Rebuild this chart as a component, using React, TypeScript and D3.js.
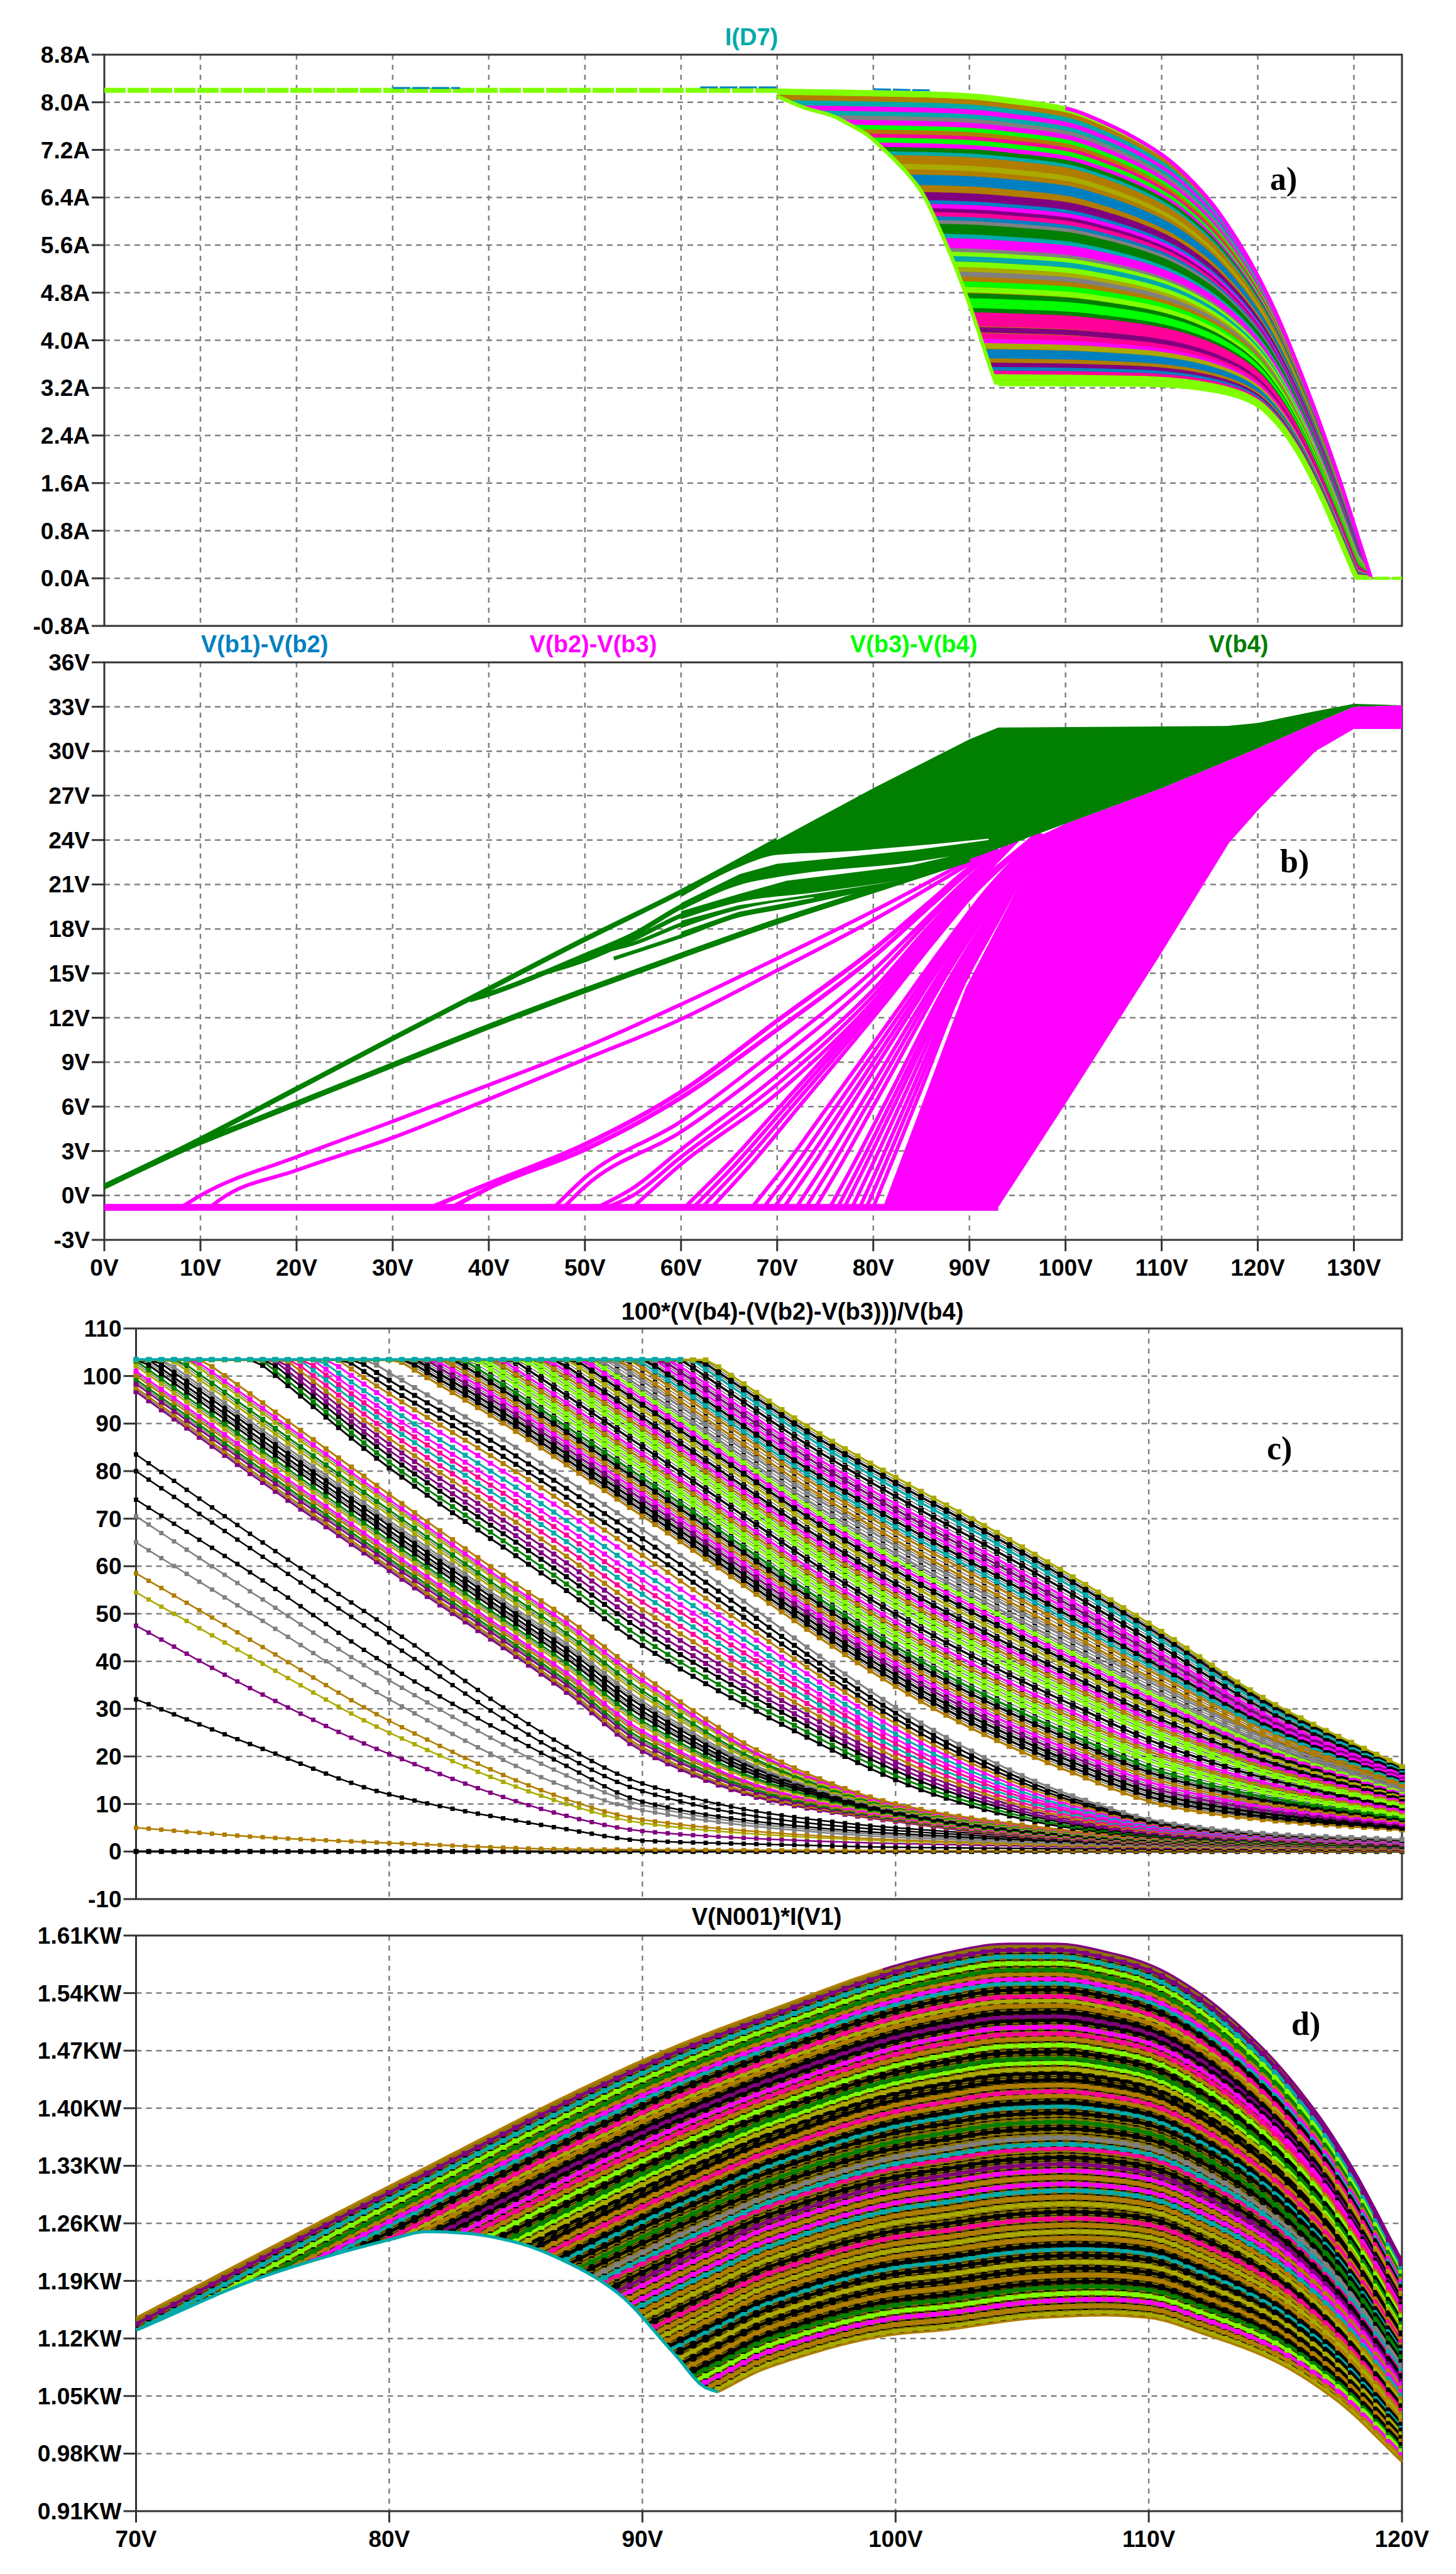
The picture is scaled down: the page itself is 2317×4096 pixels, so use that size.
import React from 'react';
import * as d3 from 'd3';

type Pt = [number, number];
type Stripe = [number, string];

const PALETTE: Record<string, string> = {
  M: '#ff00ff', L: '#80ff00', G: '#00ff00', D: '#007f00', T: '#00aaaa', B: '#0080c0',
  P: '#800080', K: '#ff0099', O: '#b07d00', Y: '#aaaa00', A: '#808080', N: '#000000',
};

// ---------- panel a: I(D7) ----------
const aYTicks = [8.8, 8.0, 7.2, 6.4, 5.6, 4.8, 4.0, 3.2, 2.4, 1.6, 0.8, 0.0, -0.8];
const aYLabels = ['8.8A', '8.0A', '7.2A', '6.4A', '5.6A', '4.8A', '4.0A', '3.2A', '2.4A', '1.6A', '0.8A', '0.0A', '-0.8A'];
const aFlat: Pt[] = [[0, 8.2], [70, 8.2]];
const aBlueBits: Pt[][] = [[[30, 8.24], [37, 8.24]], [[62, 8.25], [70, 8.25]], [[80, 8.22], [86, 8.2]]];
const aZero: Pt[] = [[130.2, 0], [135, 0]];
const aUpper: Pt[] = [[70, 8.2], [86, 8.15], [90, 8.12], [95, 8.03], [100, 7.9], [104, 7.66], [110, 7.12], [114.4, 6.46], [117.8, 5.7], [121.2, 4.7], [124.6, 3.4], [128, 1.9], [131.8, 0]];
const aLowerRight: Pt[] = [[93, 3.26], [108, 3.25], [112, 3.22], [115.4, 3.15], [118, 3.05], [120, 2.9], [122, 2.6], [124, 2.15], [126.3, 1.45], [130.2, 0]];
const aLeftEdge: Pt[] = [[70, 8.1], [73, 7.9], [75.6, 7.78], [77.6, 7.62], [79.4, 7.45], [80.8, 7.25], [83, 6.9], [85, 6.5], [87.2, 5.76], [89.2, 4.96], [90.6, 4.32], [92.3, 3.48], [92.8, 3.26]];
const aStripes: Stripe[] = [
  [7.95, 'L'], [7.86, 'O'], [7.78, 'T'], [7.7, 'M'], [7.62, 'T'], [7.55, 'A'], [7.48, 'M'], [7.4, 'G'], [7.33, 'O'], [7.26, 'K'], [7.2, 'G'], [7.12, 'M'], [7.05, 'D'], [6.98, 'T'], [6.92, 'O'], [6.85, 'O'], [6.78, 'Y'], [6.69, 'O'], [6.61, 'B'], [6.53, 'B'], [6.42, 'O'], [6.33, 'P'], [6.26, 'P'], [6.2, 'B'], [6.14, 'M'], [6.07, 'P'], [6.01, 'K'], [5.94, 'B'], [5.88, 'A'], [5.82, 'D'], [5.74, 'D'], [5.66, 'T'], [5.59, 'M'], [5.51, 'M'], [5.43, 'A'], [5.37, 'L'], [5.3, 'T'], [5.21, 'L'], [5.12, 'Y'], [5.05, 'A'], [4.97, 'O'], [4.89, 'G'], [4.8, 'L'], [4.7, 'D'], [4.62, 'G'], [4.53, 'G'], [4.46, 'D'], [4.39, 'K'], [4.32, 'K'], [4.25, 'K'], [4.15, 'P'], [4.05, 'K'], [3.96, 'M'], [3.89, 'Y'], [3.79, 'B'], [3.71, 'B'], [3.64, 'O'], [3.57, 'P'], [3.5, 'B'], [3.44, 'K'], [3.38, 'L'], [3.29, 'L'],
];

// ---------- panel b: V(b1)-V(b2) ... V(b4) ----------
const bXTicks = [0, 10, 20, 30, 40, 50, 60, 70, 80, 90, 100, 110, 120, 130];
const bXLabels = bXTicks.map(v => `${v}V`);
const bYTicks = [36, 33, 30, 27, 24, 21, 18, 15, 12, 9, 6, 3, 0, -3];
const bYLabels = bYTicks.map(v => `${v}V`);
const bFloor: Pt[] = [[0, -0.8], [93, -0.8]];
const bGreenUpper: Pt[] = [[0, 0.6], [10, 3.8], [20, 7.2], [30, 10.6], [40, 13.95], [50, 17.3], [60, 20.5], [70, 24], [80, 27.5], [90, 30.8], [93, 31.6], [116.8, 31.7], [120, 31.9], [126, 32.7], [130, 33.2], [135, 33.1]];
const bGreenLower: Pt[] = [[0, 0.6], [10, 3.6], [15, 4.9], [20, 6.2], [30, 8.8], [40, 11.4], [50, 13.85], [60, 16.2], [70, 18.5], [80, 20.6], [90, 22.7], [100, 25.1], [110, 27.5], [120, 30.2], [126, 31.9], [130, 33], [135, 33.1]];
const bGreen2: Pt[] = [[38, 13.2], [40, 13.6], [50, 16.2], [55, 17.6], [60, 19.5], [70, 22]];
const bGreen3: Pt[] = [[45, 14.9], [50, 15.9], [55, 17.3], [60, 18.9], [70, 20.7]];
const bGreen4: Pt[] = [[52, 16.5], [55, 17], [60, 18.3], [70, 20.2]];
const bGreen5: Pt[] = [[53, 16], [60, 17.5], [66, 18.9], [70, 19.4], [83.4, 21.3]];
const bSlitUpper: Pt[] = [[60, 20.15], [66.1, 22.2], [70, 23], [76.3, 23.2], [84, 23.6], [92, 24.1]];
const bSlitLower: Pt[] = [[60, 19.75], [66.1, 21.7], [70, 22.4], [76.3, 22.8], [84, 23.3], [92, 24]];
const bSlit2Upper: Pt[] = [[60, 19.25], [66, 20.95], [71, 21.6], [84, 22.5], [88, 22.9]];
const bSlit2Lower: Pt[] = [[60, 19.2], [66, 20.35], [71, 21.25], [84, 22.3], [88, 22.9]];
const bSlit3Upper: Pt[] = [[60, 18.65], [66, 19.8], [73.8, 20.45], [83, 21.3]];
const bSlit3Lower: Pt[] = [[60, 18.55], [66, 19.6], [73.8, 20.35], [83, 21.3]];
const bSlit4Upper: Pt[] = [[60, 18.05], [66, 19.3], [73.8, 20.15]];
const bSlit4Lower: Pt[] = [[60, 17.8], [66, 19.15], [73.8, 20.1]];
const bStrands: Pt[][] = [
  [[8, -0.8], [10, 0], [20, 2.6], [30, 5], [40, 7.46], [50, 10], [60, 12.9], [70, 16], [80, 19.2], [91, 23]],
  [[11, -0.8], [12, -0.3], [20, 1.7], [30, 3.9], [40, 6.5], [50, 9.2], [60, 11.9], [70, 15.2], [80, 18.6], [92, 23.2]],
  [[34, -0.8], [40, 0.8], [50, 3.45], [60, 7], [70, 11.8], [80, 16.6], [86, 19.9], [90, 22.1], [93, 23.4]],
  [[36.2, -0.8], [40, 0.5], [50, 3.1], [60, 6.6], [70, 11.2], [80, 16.1], [86, 19.6], [90, 21.9], [93, 23.4]],
  [[46.8, -0.8], [50, 1.2], [60, 5], [70, 9.9], [80, 15.2], [86, 19], [90, 21.5], [94, 23.7]],
  [[47.8, -0.8], [50, 0.6], [60, 4.3], [70, 9.1], [80, 14.6], [86, 18.7], [90, 21.3], [94, 23.7]],
  [[51.3, -0.8], [55, 0.5], [60, 3.1], [70, 8.1], [80, 13.9], [86, 18.3], [90, 21], [95, 24]],
  [[52.3, -0.8], [55, 0], [60, 2.6], [70, 7.5], [80, 13.5], [86, 18], [91, 21.5], [95, 24]],
  [[55, -0.8], [60, 2.1], [70, 6.9], [80, 13.1], [86, 17.8], [91, 21.3], [95, 24]],
];
const bFanLeft: Pt[] = [[60.4, -0.8], [65, 2.2], [70, 5.8], [80, 13], [86, 17.6], [90, 20.5], [97, 24.4]];
const bFanRight: Pt[] = [[81, -0.8], [85.5, 6.9], [89.6, 14], [94, 19.5], [97.7, 24.4]];
const bFanStarts = [60.4, 61.3, 62.2, 63.2, 67.4, 68.6, 69.7, 70.7, 72, 73, 74, 75.5, 76.3, 77, 77.8, 78.6, 79.3, 80];
const bMagentaEdge: Pt[] = [[93, -0.8], [100, 6.2], [110, 16.4], [117, 23.8], [120, 26], [126, 30], [130, 31.5], [135, 31.5]];

// ---------- panel c: 100*(V(b4)-(V(b2)-V(b3)))/V(b4) ----------
const cYTicks = [110, 100, 90, 80, 70, 60, 50, 40, 30, 20, 10, 0, -10];
const cYLabels = cYTicks.map(String);
const cXTicks = [70, 80, 90, 100, 110, 120];
const cXLabels = cXTicks.map(v => `${v}V`);
const cSingles: [Pt[], string][] = [
  [[[70, 0], [120, 0]], 'N'],
  [[[70, 5], [75, 3], [80, 1.8], [87, 0.5], [90, 0.4], [100, 0.2], [120, 0.1]], 'O'],
  [[[70, 32], [75, 21.6], [80, 12], [87, 4.7], [90, 2.3], [95, 1.5], [100, 0.9], [110, 0.5], [120, 0.3]], 'N'],
  [[[70, 47.5], [75, 33], [80, 20.5], [87, 7.5], [90, 4.3], [95, 2.6], [100, 1.7], [110, 0.8], [120, 0.4]], 'P'],
  [[[70, 54.5], [75, 39.5], [80, 25], [87, 10], [90, 6], [95, 3.5], [100, 2.2], [110, 1], [120, 0.5]], 'Y'],
  [[[70, 58.5], [75, 43], [80, 27.5], [87, 11], [90, 6.7], [95, 4], [100, 2.5], [110, 1.1], [120, 0.6]], 'O'],
  [[[70, 65], [75, 48.5], [80, 32], [87, 13.5], [90, 8.7], [95, 5], [100, 3], [110, 1.3], [120, 0.7]], 'A'],
  [[[70, 70.5], [75, 53], [80, 36], [87, 16], [90, 9.8], [95, 5.5], [100, 3.4], [110, 1.5], [120, 0.8]], 'A'],
  [[[70, 74], [75, 57], [80, 39], [87, 18], [90, 10.5], [95, 6], [100, 3.8], [110, 1.6], [120, 0.8]], 'N'],
  [[[70, 80], [75, 62], [80, 44], [87, 20], [90, 12.7], [95, 7], [100, 4.4], [110, 1.8], [120, 0.9]], 'N'],
  [[[70, 83.5], [75, 65], [80, 47], [87, 22], [90, 14.3], [95, 8], [100, 5], [110, 2], [120, 1]], 'N'],
];
const cFLow: Pt[] = [[70, 96.6], [75, 77.5], [80, 59], [87, 33.4], [90, 21], [95, 10.7], [100, 6.3], [104.4, 3.5], [110, 1.8], [120, 0.7]];
const cFTop: Pt[] = [[70, 113], [72.6, 103.4], [80, 75], [84.5, 58], [87, 49], [90, 37], [95, 20], [100, 10], [104.4, 6], [110, 3], [120, 1.5]];
const cELow: Pt[] = [[70, 120], [74.5, 103.4], [80, 79.6], [87, 53.6], [90, 42], [95, 27], [101.87, 10.7], [107, 4.5], [110, 3], [120, 1.2]];
const cETop: Pt[] = [[70, 136], [79, 103.4], [84.5, 86], [90, 67], [101.87, 24], [107, 11.5], [110.9, 5.8], [115, 3.6], [120, 2.5]];
const cDLow: Pt[] = [[70, 138.4], [80, 103.4], [84.5, 89], [90, 69.5], [101.87, 27.9], [107, 15.5], [110.9, 8.5], [115, 5.8], [120, 4.2]];
const cDTop: Pt[] = [[70, 184.8], [92.6, 103.4], [94.1, 98], [96.5, 89.5], [100, 78.7], [104.4, 65.9], [110, 48], [114.8, 31.5], [120, 17.9]];
const cTopFlat: Pt[] = [[70, 103.5], [91.5, 103.5]];
const cFStripes: Stripe[] = [[75.1, 'O'], [74, 'M'], [73, 'Y'], [71.8, 'D'], [70.7, 'Y'], [69.6, 'A'], [68.5, 'N'], [67.5, 'N'], [66.4, 'N'], [65.4, 'D'], [64.4, 'Y'], [63.3, 'M'], [62.4, 'O'], [61.6, 'D'], [60.7, 'P'], [59.9, 'O'], [59.1, 'P']];
const cEStripes: Stripe[] = [[30.3, 'A'], [29.1, 'N'], [27.9, 'N'], [26.9, 'O'], [25.8, 'M'], [24.7, 'T'], [23.7, 'M'], [22.7, 'K'], [21.8, 'T'], [20.8, 'K'], [19.8, 'O'], [18.9, 'P'], [17.9, 'P'], [17, 'N'], [16, 'D'], [15.1, 'N']];
const cDStripes: Stripe[] = [[78.7, 'Y'], [77.5, 'N'], [76.3, 'T'], [74.7, 'N'], [73.1, 'M'], [71.9, 'P'], [70.7, 'M'], [69.5, 'N'], [68.3, 'T'], [67.1, 'O'], [65.5, 'O'], [64.3, 'A'], [62.7, 'A'], [61.5, 'L'], [60.3, 'M'], [59.1, 'N'], [57.9, 'Y'], [56.3, 'N'], [55.1, 'M'], [53.9, 'O'], [52.7, 'L'], [51.5, 'L'], [49.9, 'N'], [48.3, 'M'], [47.1, 'O'], [45.9, 'L'], [44.7, 'L'], [43.1, 'D'], [41.9, 'N'], [40.7, 'O'], [39.5, 'M'], [38.3, 'P'], [37.1, 'N'], [35.9, 'N'], [34.7, 'O']];

// ---------- panel d: V(N001)*I(V1) ----------
const dYTicks = [1.61, 1.54, 1.47, 1.40, 1.33, 1.26, 1.19, 1.12, 1.05, 0.98, 0.91];
const dYLabels = ['1.61KW', '1.54KW', '1.47KW', '1.40KW', '1.33KW', '1.26KW', '1.19KW', '1.12KW', '1.05KW', '0.98KW', '0.91KW'];
const dUpper: Pt[] = [[70, 1.145], [80, 1.305], [90, 1.458], [94.4, 1.512], [101.85, 1.588], [104.4, 1.6], [106.4, 1.6], [108.6, 1.588], [110, 1.575], [112, 1.54], [114.5, 1.473], [116.5, 1.4], [118, 1.33], [120, 1.215]];
const dLowerLeft: Pt[] = [[70, 1.13], [75, 1.195], [80, 1.24], [81.5, 1.25], [83, 1.248], [85, 1.237], [87, 1.213], [89, 1.176], [91.3, 1.1], [92.5, 1.06], [93, 1.055]];
const dLowerRight: Pt[] = [[93, 1.055], [95, 1.085], [100, 1.125], [101.85, 1.13], [105.7, 1.145], [108.3, 1.148], [110, 1.145], [112.2, 1.125], [114.8, 1.095], [117.4, 1.045], [120, 0.97]];
const dStripeFloor: Pt[] = [[70, 0.7], [85, 0.93], ...dLowerRight];
const dStripes: Stripe[] = [
  [1.591, 'P'], [1.583, 'T'], [1.575, 'L'], [1.567, 'D'], [1.562, 'O'], [1.556, 'M'], [1.551, 'T'], [1.543, 'N'], [1.535, 'K'], [1.53, 'Y'], [1.524, 'O'], [1.516, 'N'], [1.511, 'P'], [1.506, 'N'], [1.498, 'M'], [1.49, 'K'], [1.484, 'O'], [1.476, 'L'], [1.468, 'N'], [1.46, 'D'], [1.455, 'L'], [1.447, 'Y'], [1.442, 'N'], [1.434, 'N'], [1.428, 'O'], [1.42, 'K'], [1.415, 'O'], [1.407, 'N'], [1.402, 'T'], [1.394, 'N'], [1.383, 'D'], [1.375, 'N'], [1.364, 'A'], [1.356, 'T'], [1.351, 'K'], [1.34, 'N'], [1.332, 'P'], [1.324, 'M'], [1.316, 'O'], [1.308, 'M'], [1.3, 'T'], [1.292, 'O'], [1.284, 'Y'], [1.274, 'N'], [1.266, 'K'], [1.258, 'O'], [1.25, 'Y'], [1.242, 'O'], [1.234, 'N'], [1.229, 'T'], [1.221, 'N'], [1.213, 'Y'], [1.205, 'N'], [1.197, 'O'], [1.189, 'N'], [1.183, 'D'], [1.175, 'L'], [1.167, 'M'], [1.159, 'O'], [1.151, 'Y'], [1.146, 'T'],
];

// ---------- layout ----------
const LEFT_A = 166, LEFT_C = 216.5, RIGHT = 2231;
const FONT = '"Liberation Sans", Arial, sans-serif';
const FS = 37;

function lookup(pts: Pt[]) {
  const xs = pts.map(p => p[0]), ys = pts.map(p => p[1]);
  const n = xs.length;
  const d = d3.range(n - 1).map(i => (ys[i + 1] - ys[i]) / (xs[i + 1] - xs[i]));
  const m = d3.range(n).map(i => {
    if (i === 0) return d[0];
    if (i === n - 1) return d[n - 2];
    return d[i - 1] * d[i] <= 0 ? 0 : (2 * d[i - 1] * d[i]) / (d[i - 1] + d[i]);
  });
  return (v: number) => {
    if (v <= xs[0]) return ys[0];
    if (v >= xs[n - 1]) return ys[n - 1];
    const i = Math.min(n - 2, d3.bisectRight(xs, v) - 1);
    const h = xs[i + 1] - xs[i], t = (v - xs[i]) / h;
    const t2 = t * t, t3 = t2 * t;
    return (2 * t3 - 3 * t2 + 1) * ys[i] + (t3 - 2 * t2 + t) * h * m[i] + (-2 * t3 + 3 * t2) * ys[i + 1] + (t3 - t2) * h * m[i + 1];
  };
}
const dense = (pts: Pt[], step = 0.25): Pt[] => {
  const f = lookup(pts);
  const a = pts[0][0], b = pts[pts.length - 1][0];
  return [...d3.range(a, b, step), b].map(v => [v, f(v)] as Pt);
};

type Sc = d3.ScaleLinear<number, number>;

function Frame({ x, y, left, top, bottom, xTicks, yTicks, yLabels, xLabels }: {
  x: Sc; y: Sc; left: number; top: number; bottom: number; xTicks: number[]; yTicks: number[]; yLabels: string[]; xLabels?: string[];
}) {
  return (
    <g fontFamily={FONT} fontWeight="bold" fontSize={FS} fill="#000">
      {yTicks.slice(1, -1).map(t => (
        <line key={t} x1={left} x2={RIGHT} y1={y(t)} y2={y(t)} stroke="#808080" strokeWidth={2.5} strokeDasharray="9 7" />
      ))}
      {xTicks.filter(t => x(t) > left + 1 && x(t) < RIGHT - 1).map(t => (
        <line key={t} x1={x(t)} x2={x(t)} y1={top} y2={bottom} stroke="#808080" strokeWidth={2.5} strokeDasharray="8 8" />
      ))}
      <rect x={left} y={top} width={RIGHT - left} height={bottom - top} fill="none" stroke="#333" strokeWidth={3} />
      {yTicks.map((t, i) => (
        <g key={t}>
          <line x1={left - 20} x2={left} y1={y(t)} y2={y(t)} stroke="#333" strokeWidth={3} />
          <text x={left - 23} y={y(t) + 13} textAnchor="end">{yLabels[i]}</text>
        </g>
      ))}
      {xLabels && xTicks.map((t, i) => (
        <g key={t}>
          <line x1={x(t)} x2={x(t)} y1={bottom} y2={bottom + 18} stroke="#333" strokeWidth={3} />
          <text x={x(t)} y={bottom + 57} textAnchor="middle">{xLabels[i]}</text>
        </g>
      ))}
    </g>
  );
}

const markerPath = (pts: Pt[], w: number, h: number) =>
  pts.map(([a, b]) => `M${(a - w / 2).toFixed(1)} ${(b - h / 2).toFixed(1)}h${w}v${h}h${-w}z`).join('');

function Trace({ pts, x, y, color, width, mw, mh }: { pts: Pt[]; x: Sc; y: Sc; color: string; width: number; mw: number; mh: number }) {
  const line = d3.line<Pt>().x(p => x(p[0])).y(p => y(p[1]));
  const screen = pts.map(p => [x(p[0]), y(p[1])] as Pt);
  return (
    <g>
      <path d={line(pts) || ''} fill="none" stroke={color} strokeWidth={width} />
      <path d={markerPath(screen, mw, mh)} fill={color} />
    </g>
  );
}

const midLevels = (s: Stripe[]): Stripe[] => d3.pairs(s).map(([a, b]) => [(a[0] + b[0]) / 2, 'N'] as Stripe);

function PanelA() {
  const top = 87, bottom = 996;
  const x = d3.scaleLinear().domain([0, 135]).range([LEFT_A, RIGHT]);
  const y = d3.scaleLinear().domain([8.8, -0.8]).range([top, bottom]);
  const line = d3.line<Pt>().x(p => x(p[0])).y(p => y(p[1]));
  const up = lookup(aUpper), lo = lookup(aLowerRight);
  const ref = 97.4;
  const grid = d3.range(70, 132.01, 0.25);
  const left = dense(aLeftEdge), lower = dense(aLowerRight), upper = dense(aUpper);
  const clip = [[70, 8.2] as Pt, ...left, ...lower, ...upper.slice().reverse()];
  const fill = line(clip) + 'Z';
  return (
    <g>
      <Frame x={x} y={y} left={LEFT_A} top={top} bottom={bottom} xTicks={bXTicks} yTicks={aYTicks} yLabels={aYLabels} />
      <clipPath id="clipA"><path d={fill} /></clipPath>
      <path d={fill} fill={PALETTE.O} />
      <g clipPath="url(#clipA)">
        {aStripes.map(([lv, c], i) => {
          const f = (lv - lo(ref)) / (up(ref) - lo(ref));
          const pts = grid.map(v => [v, lo(v) + f * (up(v) - lo(v))] as Pt);
          return <path key={i} d={line(pts) || ''} fill="none" stroke={PALETTE[c]} strokeWidth={8.5} />;
        })}
      </g>
      <path d={line(left) || ''} fill="none" stroke={PALETTE.L} strokeWidth={6} />
      <path d={line(lower) || ''} fill="none" stroke={PALETTE.L} strokeWidth={6} />
      <path d={line(upper.filter(p => p[0] <= 101)) || ''} fill="none" stroke={PALETTE.L} strokeWidth={6} />
      <path d={line(upper.filter(p => p[0] >= 100)) || ''} fill="none" stroke={PALETTE.M} strokeWidth={6} />
      <path d={line(aFlat) || ''} fill="none" stroke={PALETTE.L} strokeWidth={8} strokeDasharray="34 3" />
      <path d={line(aZero) || ''} fill="none" stroke={PALETTE.L} strokeWidth={5} strokeDasharray="26 3" />
      {aBlueBits.map((b, i) => <path key={i} d={line(b) || ''} fill="none" stroke={PALETTE.B} strokeWidth={3} strokeDasharray="28 3" />)}
    </g>
  );
}

function PanelB() {
  const top = 1054, bottom = 1973;
  const x = d3.scaleLinear().domain([0, 135]).range([LEFT_A, RIGHT]);
  const y = d3.scaleLinear().domain([36, -3]).range([top, bottom]);
  const line = d3.line<Pt>().x(p => x(p[0])).y(p => y(p[1]));
  const smooth = d3.line<Pt>().x(p => x(p[0])).y(p => y(p[1])).curve(d3.curveMonotoneX);
  const swap = (pts: Pt[]) => pts.map(p => [p[1], p[0]] as Pt);
  const fanL = lookup(swap(bFanLeft)), fanR = lookup(swap(bFanRight));
  const vals = d3.range(-0.8, 24.41, 0.4);
  const green = [...bGreenUpper.filter(p => p[0] >= 60), ...bGreenLower.filter(p => p[0] >= 84).reverse(), ...bGreen5.filter(p => p[0] >= 60).reverse()];
  const solid = [...bFanRight, ...bGreenLower.filter(p => p[0] > 98), ...bMagentaEdge.slice().reverse()];
  const wedge = (a: Pt[], b: Pt[]) => smooth(a) + 'L' + b.slice().reverse().map(p => `${x(p[0])} ${y(p[1])}`).join('L') + 'Z';
  const stroke = (d: Pt[], c: string, w: number, k: string) => <path key={k} d={smooth(d) || ''} fill="none" stroke={c} strokeWidth={w} />;
  return (
    <g>
      <Frame x={x} y={y} left={LEFT_A} top={top} bottom={bottom} xTicks={bXTicks} yTicks={bYTicks} yLabels={bYLabels} xLabels={bXLabels} />
      <path d={line(solid) + 'Z'} fill={PALETTE.M} />
      {bStrands.map((s, i) => stroke(s, PALETTE.M, i === 2 || i === 3 ? 7 : 6, `s${i}`))}
      {bFanStarts.map((s0, i) => {
        const f = (s0 - 60.4) / (81 - 60.4);
        return stroke(vals.map(v => [(1 - f) * fanL(v) + f * fanR(v), v] as Pt), PALETTE.M, 6, `f${i}`);
      })}
      {stroke(bFloor, PALETTE.M, 11, 'floor')}
      {stroke(bGreenLower.filter(p => p[0] <= 90), PALETTE.D, 9, 'gl')}
      {stroke(bGreenUpper.filter(p => p[0] <= 70), PALETTE.D, 8, 'gu')}
      {stroke(bGreen2, PALETTE.D, 8, 'g2')}
      {stroke(bGreen3, PALETTE.D, 7, 'g3')}
      {stroke(bGreen4, PALETTE.D, 6, 'g4')}
      {stroke(bGreen5, PALETTE.D, 6, 'g5')}
      <path d={line(green) + 'Z'} fill={PALETTE.D} />
      <path d={wedge(bSlitUpper, bSlitLower)} fill="#fff" />
      <path d={wedge(bSlit2Upper, bSlit2Lower)} fill="#fff" />
      <path d={wedge(bSlit3Upper, bSlit3Lower)} fill="#fff" />
      <path d={wedge(bSlit4Upper, bSlit4Lower)} fill="#fff" />
    </g>
  );
}

function PanelC() {
  const top = 2114, bottom = 3022;
  const x = d3.scaleLinear().domain([70, 120]).range([LEFT_C, RIGHT]);
  const y = d3.scaleLinear().domain([110, -10]).range([top, bottom]);
  const grid = d3.range(70, 120.01, 0.5);
  const group = (low: Pt[], high: Pt[], stripes: Stripe[], ref: number, key: string, w: number, mw: number, mh: number) => {
    const lo = lookup(low), hi = lookup(high);
    return stripes.slice().reverse().map(([lv, c], i) => {
      const f = (lv - lo(ref)) / (hi(ref) - lo(ref));
      const pts = grid.map(v => [v, Math.min(103.4, lo(v) + f * (hi(v) - lo(v)))] as Pt);
      return <Trace key={key + i} pts={pts} x={x} y={y} color={PALETTE[c]} width={w} mw={mw} mh={mh} />;
    });
  };
  return (
    <g>
      <Frame x={x} y={y} left={LEFT_C} top={top} bottom={bottom} xTicks={cXTicks} yTicks={cYTicks} yLabels={cYLabels} />
      {cSingles.map(([pts, c], i) => {
        const s = lookup(pts);
        return <Trace key={i} pts={grid.map(v => [v, s(v)] as Pt)} x={x} y={y} color={PALETTE[c]} width={i === 0 ? 3.5 : 2.5} mw={i === 0 ? 8 : 7} mh={i === 0 ? 8 : 7} />;
      })}
      {group(cFLow, cFTop, midLevels(cFStripes).filter((_, i) => i % 2 === 1), 80, 'f', 1, 4, 2)}
      {group(cFLow, cFTop, cFStripes, 80, 'F', 3, 8, 8)}
      {group(cELow, cETop, cEStripes, 100, 'E', 3, 8, 8)}
      {group(cDLow, cDTop, midLevels(cDStripes), 100, 'd', 1, 7, 2.5)}
      {group(cDLow, cDTop, cDStripes, 100, 'D', 3.5, 9, 8)}
      <Trace pts={grid.filter(v => v <= cTopFlat[1][0]).map(v => [v, cTopFlat[0][1]] as Pt)} x={x} y={y} color={PALETTE.T} width={4} mw={8} mh={8} />
    </g>
  );
}

function PanelD() {
  const top = 3080, bottom = 3996;
  const x = d3.scaleLinear().domain([70, 120]).range([LEFT_C, RIGHT]);
  const y = d3.scaleLinear().domain([1.61, 0.91]).range([top, bottom]);
  const line = d3.line<Pt>().x(p => x(p[0])).y(p => y(p[1]));
  const up = lookup(dUpper), lo = lookup(dStripeFloor);
  const ref = 107;
  const grid = d3.range(70, 120.01, 0.5);
  const left = dense(dLowerLeft), lower = dense(dLowerRight), upper = dense(dUpper);
  const clip = [...left, ...lower, ...upper.slice().reverse()];
  const fill = line(clip) + 'Z';
  const curve = (lv: number) => {
    const f = (lv - lo(ref)) / (up(ref) - lo(ref));
    return grid.map(v => [v, lo(v) + f * (up(v) - lo(v))] as Pt);
  };
  return (
    <g>
      <Frame x={x} y={y} left={LEFT_C} top={top} bottom={bottom} xTicks={cXTicks} yTicks={dYTicks} yLabels={dYLabels} xLabels={cXLabels} />
      <clipPath id="clipD"><path d={fill} /></clipPath>
      <path d={fill} fill="#8a7400" />
      <g clipPath="url(#clipD)">
        {midLevels(dStripes).map(([lv], i) => (
          <Trace key={`h${i}`} pts={curve(lv)} x={x} y={y} color="#000" width={1} mw={8} mh={2.5} />
        ))}
        {dStripes.slice().reverse().map(([lv, c], i) => (
          <Trace key={i} pts={curve(lv)} x={x} y={y} color={PALETTE[c]} width={5} mw={11} mh={8} />
        ))}
      </g>
      <path d={line(left) || ''} fill="none" stroke={PALETTE.T} strokeWidth={5} />
      <path d={line(lower) || ''} fill="none" stroke={PALETTE.O} strokeWidth={3.5} />
      <path d={line(upper.filter(p => p[0] <= 100)) || ''} fill="none" stroke={PALETTE.O} strokeWidth={4} />
      <path d={line(upper.filter(p => p[0] >= 99.5)) || ''} fill="none" stroke={PALETTE.P} strokeWidth={3.5} />
    </g>
  );
}

const titles: [string, number, number, string][] = [
  ['I(D7)', 1196, 72, PALETTE.T],
  ['V(b1)-V(b2)', 421, 1038, PALETTE.B],
  ['V(b2)-V(b3)', 944, 1038, PALETTE.M],
  ['V(b3)-V(b4)', 1454, 1038, PALETTE.G],
  ['V(b4)', 1971, 1038, PALETTE.D],
  ['100*(V(b4)-(V(b2)-V(b3)))/V(b4)', 1261, 2100, '#000'],
  ['V(N001)*I(V1)', 1220, 3063, '#000'],
];
const letters: [string, number, number][] = [['a)', 2021, 302], ['b)', 2037, 1388], ['c)', 2016, 2322], ['d)', 2055, 3238]];

export default function App() {
  return (
    <svg width={2317} height={4096} viewBox="0 0 2317 4096" style={{ position: 'absolute', left: 0, top: 0, background: '#fff' }}>
      <rect width={2317} height={4096} fill="#fff" />
      <PanelA />
      <PanelB />
      <PanelC />
      <PanelD />
      {titles.map(([t, xx, yy, c]) => (
        <text key={t} x={xx} y={yy} textAnchor="middle" fontFamily={FONT} fontWeight="bold" fontSize={38} fill={c}>{t}</text>
      ))}
      {letters.map(([t, xx, yy]) => (
        <text key={t} x={xx} y={yy} fontFamily='"Liberation Serif", serif' fontWeight="bold" fontSize={52} fill="#000">{t}</text>
      ))}
    </svg>
  );
}
